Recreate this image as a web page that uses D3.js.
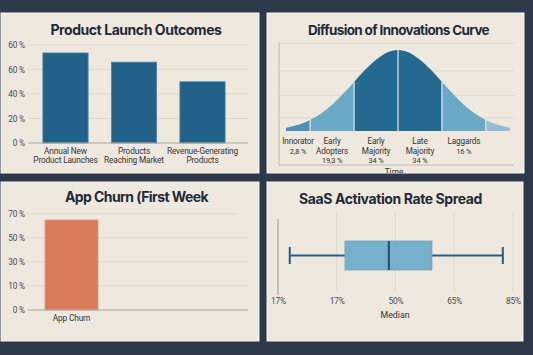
<!DOCTYPE html>
<html><head><meta charset="utf-8">
<script src="https://cdn.jsdelivr.net/npm/d3@7"></script>
<style>
html,body{margin:0;padding:0;background:#2b3949;}
svg{display:block;font-family:Roboto,"Noto Sans",sans-serif;}
</style></head>
<body><svg id="c" width="533" height="355"></svg>
<script>
// ---- data ----
const launchCats = [["Annual New","Product Launches"],["Products","Reaching Market"],["Revenue-Generating","Products"]];
const launchVals = [73.5, 66, 50];
const launchTickVals = [0, 20, 40, 60, 80];
const launchTickLabels = ["0 %","20 %","40 %","60 %","60 %"];

const curveX = [-2.55,-2.25,-2.0,-1.75,-1.5,-1.25,-1.0,-0.75,-0.5,-0.25,0,0.25,0.5,0.75,1.0,1.25,1.5,1.75,2.0,2.25,2.55];
const curveY = [4,8,13.5,21.5,32.5,46,60.5,75.5,88,97,100,97,88,75.5,60.5,46,32.5,21.5,13.5,8,4];
const segBounds = [-2.55,-2.0,-1.0,0,1.0,2.0,2.55];
const segLabels = [["Innorator","2,8 %"],["Early","Adopters","19,3 %"],["Early","Majority","34 %"],["Late","Majority","34 %"],["Laggards","16 %"]];
const diffGrid = [16, 44, 74, 108];

const churnCats = ["App Churn"];
const churnVals = [65];
const churnTickVals = [0, 10, 30, 50, 70];
const churnTickLabels = ["0 %","10 %","30 %","50 %","70 %"];

const boxStats = {min: 23, q1: 37.1, median: 48.3, q3: 59.3, max: 77.4};
const boxTickVals = [20, 35, 50, 65, 80];
const boxTickLabels = ["17%","17%","50%","65%","85%"];

// ---- drawing ----
const svg = d3.select("#c");
const defs = svg.append("defs");
const panels = [
  {id:"p1", x:1, y:13, w:258, h:160},
  {id:"p2", x:267, y:13, w:257, h:160},
  {id:"p3", x:1, y:182, w:258, h:159},
  {id:"p4", x:267, y:182, w:256, h:159}
];
panels.forEach(p=>{
  defs.append("clipPath").attr("id","clip"+p.id).append("rect").attr("x",p.x).attr("y",p.y).attr("width",p.w).attr("height",p.h);
  svg.append("rect").attr("x",p.x).attr("y",p.y).attr("width",p.w).attr("height",p.h)
    .attr("fill","#eee8de").attr("stroke","#f8f5ef").attr("stroke-width",1);
});
const G = panels.map(p=>svg.append("g").attr("clip-path","url(#clip"+p.id+")"));
const TITLE = "#1e2b3a", GRID="#dfd8cc", AXIS="#aaa59c", TICK="#4a4a4a";
const SMALL = 8.3;
const LS = "-0.15px";

function title(g, txt, x, y, w, fs){
  const t = g.append("text").attr("x",x).attr("y",y).attr("text-anchor","middle")
   .style("font-family","Inter, sans-serif").attr("font-size",fs).attr("font-weight",700).attr("fill",TITLE).text(txt);
  const len = t.node().getComputedTextLength();
  if(len>0) t.style("letter-spacing", ((w-len)/txt.length)+"px");
}

// Panel 1: Product Launch Outcomes
{
  const g = G[0];
  title(g,"Product Launch Outcomes",136,34.5,171,14);
  const y = d3.scaleLinear().domain([0,80]).range([143,45]);
  const x = d3.scaleBand().domain(launchCats.map((d,i)=>i)).range([31.25,236.75]).paddingInner(0.34).paddingOuter(0.17);
  g.selectAll(".gl").data(launchTickVals.slice(1)).join("line")
    .attr("x1",28).attr("x2",248).attr("y1",d=>y(d)).attr("y2",d=>y(d)).attr("stroke",GRID).attr("stroke-width",1);
  const ax = d3.axisLeft(y).tickValues(launchTickVals).tickFormat((d,i)=>launchTickLabels[i]).tickSize(0).tickPadding(3);
  const ag = g.append("g").attr("transform","translate(28,0)").call(ax);
  ag.select(".domain").remove();
  ag.selectAll("text").attr("font-size",SMALL).attr("fill",TICK).attr("font-family","Roboto,sans-serif").style("letter-spacing",LS);
  g.selectAll(".bar").data(launchVals).join("rect")
    .attr("x",(d,i)=>x(i)).attr("width",x.bandwidth()).attr("y",d=>y(d)).attr("height",d=>y(0)-y(d))
    .attr("fill","#22628a").attr("stroke","#4f86a8").attr("stroke-width",0.8);
  g.append("line").attr("x1",28).attr("x2",248).attr("y1",y(0)).attr("y2",y(0)).attr("stroke",AXIS).attr("stroke-width",1);
  launchCats.forEach((lines,i)=>{
    const t = g.append("text").attr("text-anchor","middle").attr("font-size",SMALL).attr("fill","#333").style("letter-spacing",LS);
    lines.forEach((l,j)=>t.append("tspan").attr("x",x(i)+x.bandwidth()/2).attr("y",154+j*9).text(l));
  });
}

// Panel 2: Diffusion curve
{
  const g = G[1];
  title(g,"Diffusion of Innovations Curve",398.5,34.5,181,13.5);
  const x = d3.scaleLinear().domain([-2.55,2.55]).range([286,510]);
  const y = d3.scaleLinear().domain([0,100]).range([131,50]);
  g.selectAll(".gl").data(diffGrid).join("line")
    .attr("x1",279).attr("x2",514).attr("y1",d=>y(d)).attr("y2",d=>y(d)).attr("stroke",GRID).attr("stroke-width",1);
  g.append("line").attr("x1",279).attr("x2",279).attr("y1",43).attr("y2",165).attr("stroke","#bdb7ad");
  g.append("line").attr("x1",279).attr("x2",514).attr("y1",165).attr("y2",165).attr("stroke","#bdb7ad");
  const pts = curveX.map((d,i)=>({x:d, y:curveY[i]}));
  const segColors = ["#4d92b6","#6aa9c6","#24698f","#24698f","#6aa9c6","#93bdd5"];
  const area = d3.area().x(d=>x(d.x)).y0(y(0)).y1(d=>y(d.y)).curve(d3.curveMonotoneX);
  for(let s=0;s<segBounds.length-1;s++){
    const seg = pts.filter(p=>p.x>=segBounds[s]-1e-9 && p.x<=segBounds[s+1]+1e-9);
    g.append("path").datum(seg).attr("d",area).attr("fill",segColors[s]);
  }
  segBounds.slice(1,-1).forEach(b=>{
    const p = pts.find(q=>Math.abs(q.x-b)<1e-9);
    g.append("line").attr("x1",x(b)).attr("x2",x(b)).attr("y1",y(0)).attr("y2",y(p.y)).attr("stroke","#dbe9f0").attr("stroke-width",1.2);
  });
  segLabels.forEach((lines,i)=>{
    const cx = (x(segBounds[i])+x(segBounds[i+1]))/2;
    lines.forEach((l,j)=>{
      g.append("text").attr("x",cx).attr("y",144+j*9.5).attr("text-anchor","middle").style("letter-spacing",LS)
        .attr("font-size",/%/.test(l)?7.5:8.2).attr("fill","#333").text(l);
    });
  });
  g.append("text").attr("x",394).attr("y",175).attr("text-anchor","middle").attr("font-size",SMALL).attr("fill","#333").text("Time");
}

// Panel 3: App Churn
{
  const g = G[2];
  title(g,"App Churn (First Week",136.5,202,143,14);
  const y = d3.scaleLinear().domain(churnTickVals).range([310,286,262,238,214]);
  const x = d3.scaleBand().domain(churnCats).range([45,98]).padding(0);
  g.selectAll(".gl").data(churnTickVals.slice(1)).join("line")
    .attr("x1",28).attr("x2",(d,i)=>i===churnTickVals.length-2?236:248).attr("y1",d=>y(d)).attr("y2",d=>y(d)).attr("stroke",GRID).attr("stroke-width",1);
  const ax = d3.axisLeft(y).tickValues(churnTickVals).tickFormat((d,i)=>churnTickLabels[i]).tickSize(0).tickPadding(3);
  const ag = g.append("g").attr("transform","translate(28,0)").call(ax);
  ag.select(".domain").remove();
  ag.selectAll("text").attr("font-size",SMALL).attr("fill",TICK).attr("font-family","Roboto,sans-serif").style("letter-spacing",LS);
  g.selectAll(".bar").data(churnVals).join("rect")
    .attr("x",(d,i)=>x(churnCats[i])).attr("width",x.bandwidth()).attr("y",d=>y(d)).attr("height",d=>y(0)-y(d))
    .attr("fill","#d97a5c").attr("stroke","#e39b82").attr("stroke-width",0.8);
  g.append("line").attr("x1",28).attr("x2",248).attr("y1",y(0)).attr("y2",y(0)).attr("stroke",AXIS).attr("stroke-width",1);
  g.selectAll(".cl").data(churnCats).join("text").attr("x",d=>x(d)+x.bandwidth()/2).attr("y",321)
    .attr("text-anchor","middle").attr("font-size",SMALL).attr("fill","#333").style("letter-spacing",LS).text(d=>d);
}

// Panel 4: SaaS box plot
{
  const g = G[3];
  title(g,"SaaS Activation Rate Spread",390.5,204,183,14);
  const x = d3.scaleLinear().domain([20,80]).range([278,513]);
  g.selectAll(".gl").data(boxTickVals.slice(1)).join("line")
    .attr("x1",d=>x(d)).attr("x2",d=>x(d)).attr("y1",211).attr("y2",292).attr("stroke",GRID).attr("stroke-width",1);
  g.append("line").attr("x1",x(boxTickVals[0])).attr("x2",x(boxTickVals[0])).attr("y1",219).attr("y2",295).attr("stroke","#9c978f").attr("stroke-width",1);
  const ax = d3.axisBottom(x).tickValues(boxTickVals).tickFormat((d,i)=>boxTickLabels[i]).tickSize(0).tickPadding(0);
  const ag = g.append("g").attr("transform","translate(0,298)").call(ax);
  ag.select(".domain").remove();
  ag.selectAll("text").attr("font-size",SMALL).attr("fill",TICK).attr("font-family","Roboto,sans-serif").style("letter-spacing",LS);
  const cy = 255.5, bh = 29;
  const wc = "#2b5c7e";
  g.append("line").attr("x1",x(boxStats.min)).attr("x2",x(boxStats.q1)).attr("y1",cy).attr("y2",cy).attr("stroke",wc).attr("stroke-width",2);
  g.append("line").attr("x1",x(boxStats.q3)).attr("x2",x(boxStats.max)).attr("y1",cy).attr("y2",cy).attr("stroke",wc).attr("stroke-width",2);
  [boxStats.min, boxStats.max].forEach(v=>{
    g.append("line").attr("x1",x(v)).attr("x2",x(v)).attr("y1",cy-8.5).attr("y2",cy+8.5).attr("stroke",wc).attr("stroke-width",2);
  });
  g.append("rect").attr("x",x(boxStats.q1)).attr("width",x(boxStats.q3)-x(boxStats.q1)).attr("y",cy-bh/2).attr("height",bh)
    .attr("fill","#77b0cb").attr("stroke","#6aa4c0").attr("stroke-width",0.8);
  g.append("line").attr("x1",x(boxStats.median)).attr("x2",x(boxStats.median)).attr("y1",cy-bh/2).attr("y2",cy+bh/2).attr("stroke","#1f4c6c").attr("stroke-width",2);
  g.append("text").attr("x",395).attr("y",318).attr("text-anchor","middle").attr("font-size",8.8).attr("fill","#333").text("Median");
}
</script></body></html>
